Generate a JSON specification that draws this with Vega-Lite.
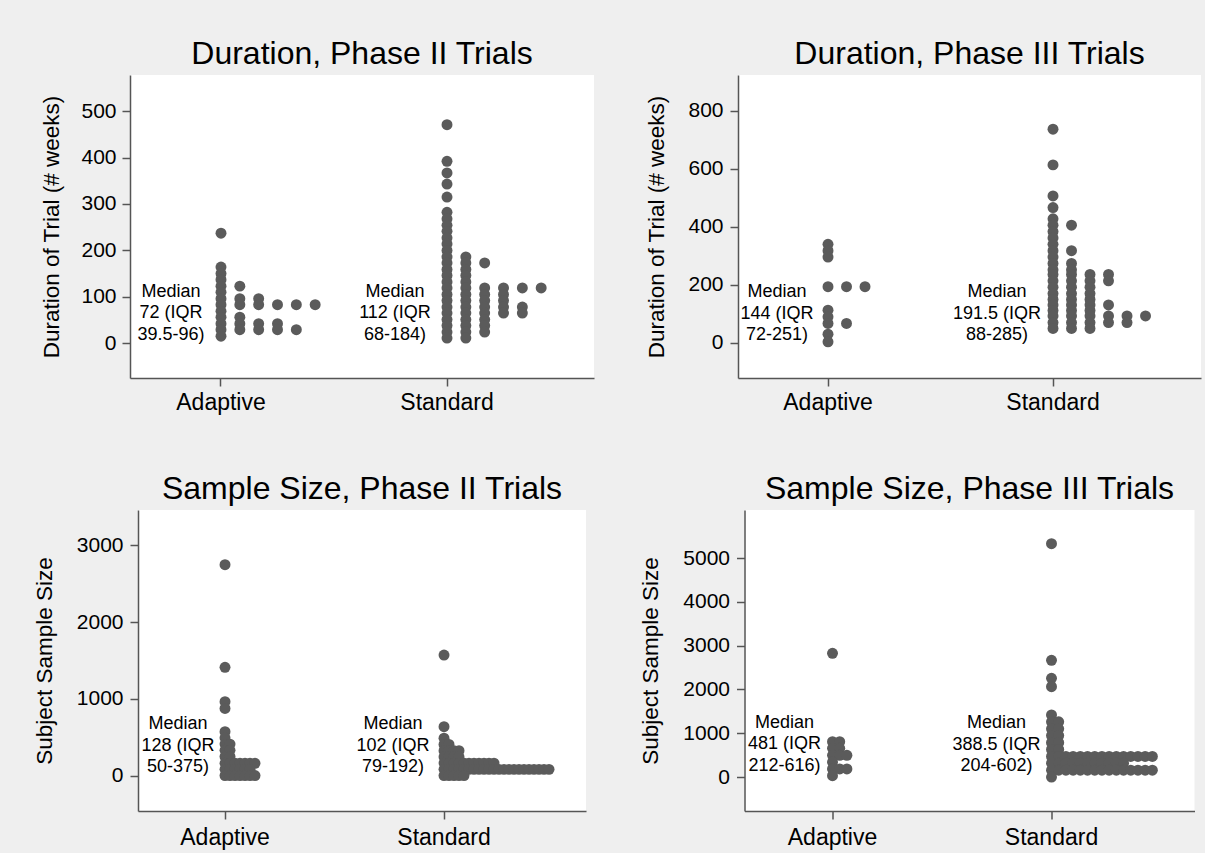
{
  "$schema": "https://vega.github.io/schema/vega-lite/v6.json",
  "background": "#efefef",
  "padding": {"left": 33, "top": 38, "right": 4, "bottom": 4},
  "config": {
    "font": "Liberation Sans",
    "view": {"stroke": null, "fill": "#ffffff"},
    "axis": {"grid": false, "domainColor": "#555555", "domainWidth": 1.5, "tickColor": "#555555", "tickWidth": 1.5, "tickSize": 8, "labelColor": "#000000", "titleColor": "#000000", "titleFontWeight": "normal", "labelFont": "Liberation Sans", "titleFont": "Liberation Sans"},
    "axisX": {"labelFontSize": 23, "labelAngle": 0, "labelPadding": 5},
    "axisY": {"labelFontSize": 21, "titleFontSize": 22.5, "titlePadding": 10, "labelPadding": 7, "format": "d"},
    "title": {"fontSize": 32, "fontWeight": "normal", "color": "#000000", "anchor": "middle", "offset": 4, "font": "Liberation Sans"},
    "text": {"lineBreak": "\n", "fontSize": 18, "lineHeight": 21.5, "align": "center", "baseline": "middle", "dy": -21.5, "color": "#000000"},
    "circle": {"size": 120, "opacity": 1, "color": "#5b5b5b"}
  },
  "datasets": {
    "d1": [
      {"g":"Adaptive","c":0,"v":237},{"g":"Adaptive","c":0,"v":164},{"g":"Adaptive","c":0,"v":150},{"g":"Adaptive","c":0,"v":137},
      {"g":"Adaptive","c":0,"v":123},{"g":"Adaptive","c":1,"v":123},{"g":"Adaptive","c":0,"v":110},
      {"g":"Adaptive","c":0,"v":96},{"g":"Adaptive","c":1,"v":96},{"g":"Adaptive","c":2,"v":96},
      {"g":"Adaptive","c":0,"v":83},{"g":"Adaptive","c":1,"v":83},{"g":"Adaptive","c":2,"v":83},{"g":"Adaptive","c":3,"v":83},{"g":"Adaptive","c":4,"v":83},{"g":"Adaptive","c":5,"v":83},
      {"g":"Adaptive","c":0,"v":69},{"g":"Adaptive","c":0,"v":56},{"g":"Adaptive","c":1,"v":56},
      {"g":"Adaptive","c":0,"v":42},{"g":"Adaptive","c":1,"v":42},{"g":"Adaptive","c":2,"v":42},{"g":"Adaptive","c":3,"v":42},
      {"g":"Adaptive","c":0,"v":29},{"g":"Adaptive","c":1,"v":29},{"g":"Adaptive","c":2,"v":29},{"g":"Adaptive","c":3,"v":29},{"g":"Adaptive","c":4,"v":29},
      {"g":"Adaptive","c":0,"v":15},
      {"g":"Standard","c":0,"v":471},{"g":"Standard","c":0,"v":392},{"g":"Standard","c":0,"v":367},{"g":"Standard","c":0,"v":343},{"g":"Standard","c":0,"v":315},
      {"g":"Standard","c":0,"v":282},{"g":"Standard","c":0,"v":268},{"g":"Standard","c":0,"v":254},{"g":"Standard","c":0,"v":241},{"g":"Standard","c":0,"v":227},{"g":"Standard","c":0,"v":214},{"g":"Standard","c":0,"v":200},
      {"g":"Standard","c":0,"v":186},{"g":"Standard","c":1,"v":186},
      {"g":"Standard","c":0,"v":173},{"g":"Standard","c":1,"v":173},{"g":"Standard","c":2,"v":173},
      {"g":"Standard","c":0,"v":159},{"g":"Standard","c":1,"v":159},
      {"g":"Standard","c":0,"v":146},{"g":"Standard","c":1,"v":146},
      {"g":"Standard","c":0,"v":132},{"g":"Standard","c":1,"v":132},
      {"g":"Standard","c":0,"v":119},{"g":"Standard","c":1,"v":119},{"g":"Standard","c":2,"v":119},{"g":"Standard","c":3,"v":119},{"g":"Standard","c":4,"v":119},{"g":"Standard","c":5,"v":119},
      {"g":"Standard","c":0,"v":105},{"g":"Standard","c":1,"v":105},{"g":"Standard","c":2,"v":105},{"g":"Standard","c":3,"v":105},
      {"g":"Standard","c":0,"v":92},{"g":"Standard","c":1,"v":92},{"g":"Standard","c":2,"v":92},{"g":"Standard","c":3,"v":92},
      {"g":"Standard","c":0,"v":78},{"g":"Standard","c":1,"v":78},{"g":"Standard","c":2,"v":78},{"g":"Standard","c":3,"v":78},{"g":"Standard","c":4,"v":78},
      {"g":"Standard","c":0,"v":65},{"g":"Standard","c":1,"v":65},{"g":"Standard","c":2,"v":65},{"g":"Standard","c":3,"v":65},{"g":"Standard","c":4,"v":65},
      {"g":"Standard","c":0,"v":51},{"g":"Standard","c":1,"v":51},{"g":"Standard","c":2,"v":51},
      {"g":"Standard","c":0,"v":38},{"g":"Standard","c":1,"v":38},{"g":"Standard","c":2,"v":38},
      {"g":"Standard","c":0,"v":24},{"g":"Standard","c":1,"v":24},{"g":"Standard","c":2,"v":24},
      {"g":"Standard","c":0,"v":11},{"g":"Standard","c":1,"v":11}
    ],
    "d2": [
      {"g":"Adaptive","c":0,"v":340},{"g":"Adaptive","c":0,"v":318},{"g":"Adaptive","c":0,"v":296},
      {"g":"Adaptive","c":0,"v":194},{"g":"Adaptive","c":1,"v":194},{"g":"Adaptive","c":2,"v":194},
      {"g":"Adaptive","c":0,"v":113},{"g":"Adaptive","c":0,"v":90},
      {"g":"Adaptive","c":0,"v":67},{"g":"Adaptive","c":1,"v":67},
      {"g":"Adaptive","c":0,"v":30},{"g":"Adaptive","c":0,"v":4},
      {"g":"Standard","c":0,"v":737},{"g":"Standard","c":0,"v":614},{"g":"Standard","c":0,"v":507},{"g":"Standard","c":0,"v":467},{"g":"Standard","c":0,"v":428},
      {"g":"Standard","c":0,"v":406},{"g":"Standard","c":1,"v":406},
      {"g":"Standard","c":0,"v":384},{"g":"Standard","c":0,"v":362},{"g":"Standard","c":0,"v":340},
      {"g":"Standard","c":0,"v":318},{"g":"Standard","c":1,"v":318},
      {"g":"Standard","c":0,"v":296},
      {"g":"Standard","c":0,"v":274},{"g":"Standard","c":1,"v":274},
      {"g":"Standard","c":0,"v":252},{"g":"Standard","c":1,"v":252},
      {"g":"Standard","c":0,"v":236},{"g":"Standard","c":1,"v":236},{"g":"Standard","c":2,"v":236},{"g":"Standard","c":3,"v":236},
      {"g":"Standard","c":0,"v":214},{"g":"Standard","c":1,"v":214},{"g":"Standard","c":2,"v":214},{"g":"Standard","c":3,"v":214},
      {"g":"Standard","c":0,"v":192},{"g":"Standard","c":1,"v":192},{"g":"Standard","c":2,"v":192},
      {"g":"Standard","c":0,"v":170},{"g":"Standard","c":1,"v":170},{"g":"Standard","c":2,"v":170},
      {"g":"Standard","c":0,"v":150},{"g":"Standard","c":1,"v":150},{"g":"Standard","c":2,"v":150},
      {"g":"Standard","c":0,"v":131},{"g":"Standard","c":1,"v":131},{"g":"Standard","c":2,"v":131},{"g":"Standard","c":3,"v":131},
      {"g":"Standard","c":0,"v":112},{"g":"Standard","c":1,"v":112},{"g":"Standard","c":2,"v":112},
      {"g":"Standard","c":0,"v":93},{"g":"Standard","c":1,"v":93},{"g":"Standard","c":2,"v":93},{"g":"Standard","c":3,"v":93},{"g":"Standard","c":4,"v":93},{"g":"Standard","c":5,"v":93},
      {"g":"Standard","c":0,"v":70},{"g":"Standard","c":1,"v":70},{"g":"Standard","c":2,"v":70},{"g":"Standard","c":3,"v":70},{"g":"Standard","c":4,"v":70},
      {"g":"Standard","c":0,"v":50},{"g":"Standard","c":1,"v":50},{"g":"Standard","c":2,"v":50}
    ],
    "d3": [
      {"g":"Adaptive","c":0,"v":2744},{"g":"Adaptive","c":0,"v":1411},{"g":"Adaptive","c":0,"v":965},{"g":"Adaptive","c":0,"v":877},
      {"g":"Adaptive","c":0,"v":576},{"g":"Adaptive","c":0,"v":495},
      {"g":"Adaptive","c":0,"v":414},{"g":"Adaptive","c":1,"v":414},
      {"g":"Adaptive","c":0,"v":333},{"g":"Adaptive","c":1,"v":333},
      {"g":"Adaptive","c":0,"v":252},{"g":"Adaptive","c":1,"v":252},
      {"g":"Adaptive","c":0,"v":164},{"g":"Adaptive","c":1,"v":164},{"g":"Adaptive","c":2,"v":164},{"g":"Adaptive","c":3,"v":164},{"g":"Adaptive","c":4,"v":164},{"g":"Adaptive","c":5,"v":164},{"g":"Adaptive","c":6,"v":164},
      {"g":"Adaptive","c":0,"v":86},{"g":"Adaptive","c":1,"v":86},{"g":"Adaptive","c":2,"v":86},{"g":"Adaptive","c":3,"v":86},{"g":"Adaptive","c":4,"v":86},{"g":"Adaptive","c":5,"v":86},
      {"g":"Adaptive","c":0,"v":5},{"g":"Adaptive","c":1,"v":5},{"g":"Adaptive","c":2,"v":5},{"g":"Adaptive","c":3,"v":5},{"g":"Adaptive","c":4,"v":5},{"g":"Adaptive","c":5,"v":5},{"g":"Adaptive","c":6,"v":5},
      {"g":"Standard","c":0,"v":1571},{"g":"Standard","c":0,"v":640},{"g":"Standard","c":0,"v":491},
      {"g":"Standard","c":0,"v":410},{"g":"Standard","c":1,"v":410},
      {"g":"Standard","c":0,"v":329},{"g":"Standard","c":1,"v":329},{"g":"Standard","c":2,"v":329},{"g":"Standard","c":3,"v":329},
      {"g":"Standard","c":0,"v":248},{"g":"Standard","c":1,"v":248},{"g":"Standard","c":2,"v":248},{"g":"Standard","c":3,"v":248},
      {"g":"Standard","c":0,"v":167},{"g":"Standard","c":1,"v":167},{"g":"Standard","c":2,"v":167},{"g":"Standard","c":3,"v":167},{"g":"Standard","c":4,"v":167},{"g":"Standard","c":5,"v":167},
      {"g":"Standard","c":6,"v":167},{"g":"Standard","c":7,"v":167},{"g":"Standard","c":8,"v":167},{"g":"Standard","c":9,"v":167},{"g":"Standard","c":10,"v":167},
      {"g":"Standard","c":0,"v":86},{"g":"Standard","c":1,"v":86},{"g":"Standard","c":2,"v":86},{"g":"Standard","c":3,"v":86},{"g":"Standard","c":4,"v":86},{"g":"Standard","c":5,"v":86},
      {"g":"Standard","c":6,"v":86},{"g":"Standard","c":7,"v":86},{"g":"Standard","c":8,"v":86},{"g":"Standard","c":9,"v":86},{"g":"Standard","c":10,"v":86},{"g":"Standard","c":11,"v":86},
      {"g":"Standard","c":12,"v":86},{"g":"Standard","c":13,"v":86},{"g":"Standard","c":14,"v":86},{"g":"Standard","c":15,"v":86},{"g":"Standard","c":16,"v":86},{"g":"Standard","c":17,"v":86},
      {"g":"Standard","c":18,"v":86},{"g":"Standard","c":19,"v":86},{"g":"Standard","c":20,"v":86},{"g":"Standard","c":21,"v":86},
      {"g":"Standard","c":0,"v":5},{"g":"Standard","c":1,"v":5},{"g":"Standard","c":2,"v":5},{"g":"Standard","c":3,"v":5},{"g":"Standard","c":4,"v":5}
    ],
    "d4": [
      {"g":"Adaptive","c":0,"v":2824},
      {"g":"Adaptive","c":0,"v":806},{"g":"Adaptive","c":1,"v":806},
      {"g":"Adaptive","c":0,"v":655},{"g":"Adaptive","c":1,"v":655},
      {"g":"Adaptive","c":0,"v":495},{"g":"Adaptive","c":1,"v":495},{"g":"Adaptive","c":2,"v":495},
      {"g":"Adaptive","c":0,"v":342},
      {"g":"Adaptive","c":0,"v":183},{"g":"Adaptive","c":1,"v":183},{"g":"Adaptive","c":2,"v":183},
      {"g":"Adaptive","c":0,"v":30},
      {"g":"Standard","c":0,"v":5327},{"g":"Standard","c":0,"v":2664},{"g":"Standard","c":0,"v":2253},{"g":"Standard","c":0,"v":2062},{"g":"Standard","c":0,"v":1416},
      {"g":"Standard","c":0,"v":1260},{"g":"Standard","c":1,"v":1260},
      {"g":"Standard","c":0,"v":1100},{"g":"Standard","c":1,"v":1100},
      {"g":"Standard","c":0,"v":945},{"g":"Standard","c":1,"v":945},
      {"g":"Standard","c":0,"v":784},{"g":"Standard","c":1,"v":784},
      {"g":"Standard","c":0,"v":630},{"g":"Standard","c":1,"v":630},
      {"g":"Standard","c":0,"v":470},{"g":"Standard","c":1,"v":470},{"g":"Standard","c":2,"v":470},{"g":"Standard","c":3,"v":470},{"g":"Standard","c":4,"v":470},
      {"g":"Standard","c":5,"v":470},{"g":"Standard","c":6,"v":470},{"g":"Standard","c":7,"v":470},{"g":"Standard","c":8,"v":470},{"g":"Standard","c":9,"v":470},
      {"g":"Standard","c":10,"v":470},{"g":"Standard","c":11,"v":470},{"g":"Standard","c":12,"v":470},{"g":"Standard","c":13,"v":470},{"g":"Standard","c":14,"v":470},
      {"g":"Standard","c":0,"v":315},{"g":"Standard","c":1,"v":315},{"g":"Standard","c":2,"v":315},{"g":"Standard","c":3,"v":315},{"g":"Standard","c":4,"v":315},
      {"g":"Standard","c":5,"v":315},{"g":"Standard","c":6,"v":315},{"g":"Standard","c":7,"v":315},{"g":"Standard","c":8,"v":315},{"g":"Standard","c":9,"v":315},{"g":"Standard","c":10,"v":315},
      {"g":"Standard","c":0,"v":155},{"g":"Standard","c":1,"v":155},{"g":"Standard","c":2,"v":155},{"g":"Standard","c":3,"v":155},{"g":"Standard","c":4,"v":155},
      {"g":"Standard","c":5,"v":155},{"g":"Standard","c":6,"v":155},{"g":"Standard","c":7,"v":155},{"g":"Standard","c":8,"v":155},{"g":"Standard","c":9,"v":155},
      {"g":"Standard","c":10,"v":155},{"g":"Standard","c":11,"v":155},{"g":"Standard","c":12,"v":155},{"g":"Standard","c":13,"v":155},{"g":"Standard","c":14,"v":155},
      {"g":"Standard","c":0,"v":0}
    ]
  },
  "spacing": 45,
  "resolve": {"scale": {"x": "independent", "y": "independent", "xOffset": "independent"}, "axis": {"x": "independent", "y": "independent"}},
  "hconcat": [
    {
      "spacing": 59,
      "center": true,
      "resolve": {"scale": {"x": "independent", "y": "independent", "xOffset": "independent"}, "axis": {"x": "independent", "y": "independent"}},
      "vconcat": [
        {
          "width": 464, "height": 303,
          "title": "Duration, Phase II Trials",
          "encoding": {
            "x": {"field": "g", "type": "nominal", "scale": {"domain": ["Adaptive", "Standard"], "paddingInner": 0.5, "paddingOuter": 0.2765, "align": 0.276}, "axis": {"title": null}}
          },
          "layer": [
            {
              "data": {"name": "d1"},
              "mark": "circle",
              "encoding": {
                "xOffset": {"field": "c", "type": "quantitative", "scale": {"domain": [-3, 3], "nice": false, "zero": false}},
                "y": {"field": "v", "type": "quantitative", "title": "Duration of Trial (# weeks)", "scale": {"domain": [-75, 578], "nice": false, "zero": false}, "axis": {"values": [0, 100, 200, 300, 400, 500], "minExtent": 56.5, "maxExtent": 56.5, "labelPadding": 6}}
              }
            },
            {
              "data": {"values": [{"g": "Adaptive", "t": "Median\n72 (IQR\n39.5-96)"}]},
              "mark": {"type": "text", "dx": -50},
              "encoding": {"y": {"datum": 65, "title": "Duration of Trial (# weeks)"}, "text": {"field": "t"}}
            },
            {
              "data": {"values": [{"g": "Standard", "t": "Median\n112 (IQR\n68-184)"}]},
              "mark": {"type": "text", "dx": -52},
              "encoding": {"y": {"datum": 65, "title": "Duration of Trial (# weeks)"}, "text": {"field": "t"}}
            }
          ]
        },
        {
          "width": 448, "height": 301,
          "title": "Sample Size, Phase II Trials",
          "encoding": {
            "x": {"field": "g", "type": "nominal", "scale": {"domain": ["Adaptive", "Standard"], "paddingInner": 0.5, "paddingOuter": 0.2728, "align": 0.27}, "axis": {"title": null, "labelPadding": 7}}
          },
          "layer": [
            {
              "data": {"name": "d3"},
              "mark": "circle",
              "encoding": {
                "xOffset": {"field": "c", "type": "quantitative", "scale": {"domain": [-10.95, 10.95], "nice": false, "zero": false}},
                "y": {"field": "v", "type": "quantitative", "title": "Subject Sample Size", "scale": {"domain": [-455, 3455], "nice": false, "zero": false}, "axis": {"values": [0, 1000, 2000, 3000], "minExtent": 72, "maxExtent": 72}}
              }
            },
            {
              "data": {"values": [{"g": "Adaptive", "t": "Median\n128 (IQR\n50-375)"}]},
              "mark": {"type": "text", "dx": -47},
              "encoding": {"y": {"datum": 390, "title": "Subject Sample Size"}, "text": {"field": "t"}}
            },
            {
              "data": {"values": [{"g": "Standard", "t": "Median\n102 (IQR\n79-192)"}]},
              "mark": {"type": "text", "dx": -51},
              "encoding": {"y": {"datum": 395, "title": "Subject Sample Size"}, "text": {"field": "t"}}
            }
          ]
        }
      ]
    },
    {
      "spacing": 59,
      "center": true,
      "resolve": {"scale": {"x": "independent", "y": "independent", "xOffset": "independent"}, "axis": {"x": "independent", "y": "independent"}},
      "vconcat": [
        {
          "width": 463, "height": 303,
          "title": "Duration, Phase III Trials",
          "encoding": {
            "x": {"field": "g", "type": "nominal", "scale": {"domain": ["Adaptive", "Standard"], "paddingInner": 0.5, "paddingOuter": 0.2789, "align": 0.269}, "axis": {"title": null}}
          },
          "layer": [
            {
              "data": {"name": "d2"},
              "mark": "circle",
              "encoding": {
                "xOffset": {"field": "c", "type": "quantitative", "scale": {"domain": [-3.04, 3.04], "nice": false, "zero": false}},
                "y": {"field": "v", "type": "quantitative", "title": "Duration of Trial (# weeks)", "scale": {"domain": [-121, 924], "nice": false, "zero": false}, "axis": {"values": [0, 200, 400, 600, 800], "minExtent": 59.5, "maxExtent": 59.5}}
              }
            },
            {
              "data": {"values": [{"g": "Adaptive", "t": "Median\n144 (IQR\n72-251)"}]},
              "mark": {"type": "text", "dx": -51},
              "encoding": {"y": {"datum": 100, "title": "Duration of Trial (# weeks)"}, "text": {"field": "t"}}
            },
            {
              "data": {"values": [{"g": "Standard", "t": "Median\n191.5 (IQR\n88-285)"}]},
              "mark": {"type": "text", "dx": -56},
              "encoding": {"y": {"datum": 100, "title": "Duration of Trial (# weeks)"}, "text": {"field": "t"}}
            }
          ]
        },
        {
          "width": 450, "height": 301,
          "title": "Sample Size, Phase III Trials",
          "encoding": {
            "x": {"field": "g", "type": "nominal", "scale": {"domain": ["Adaptive", "Standard"], "paddingInner": 0.5, "paddingOuter": 0.2774, "align": 0.2737}, "axis": {"title": null, "labelPadding": 7}}
          },
          "layer": [
            {
              "data": {"name": "d4"},
              "mark": "circle",
              "encoding": {
                "xOffset": {"field": "c", "type": "quantitative", "scale": {"domain": [-7.6, 7.6], "nice": false, "zero": false}},
                "y": {"field": "v", "type": "quantitative", "title": "Subject Sample Size", "scale": {"domain": [-776, 6096], "nice": false, "zero": false}, "axis": {"values": [0, 1000, 2000, 3000, 4000, 5000], "minExtent": 72, "maxExtent": 72}}
              }
            },
            {
              "data": {"values": [{"g": "Adaptive", "t": "Median\n481 (IQR\n212-616)"}]},
              "mark": {"type": "text", "dx": -48},
              "encoding": {"y": {"datum": 745, "title": "Subject Sample Size"}, "text": {"field": "t"}}
            },
            {
              "data": {"values": [{"g": "Standard", "t": "Median\n388.5 (IQR\n204-602)"}]},
              "mark": {"type": "text", "dx": -55},
              "encoding": {"y": {"datum": 740, "title": "Subject Sample Size"}, "text": {"field": "t"}}
            }
          ]
        }
      ]
    }
  ]
}
